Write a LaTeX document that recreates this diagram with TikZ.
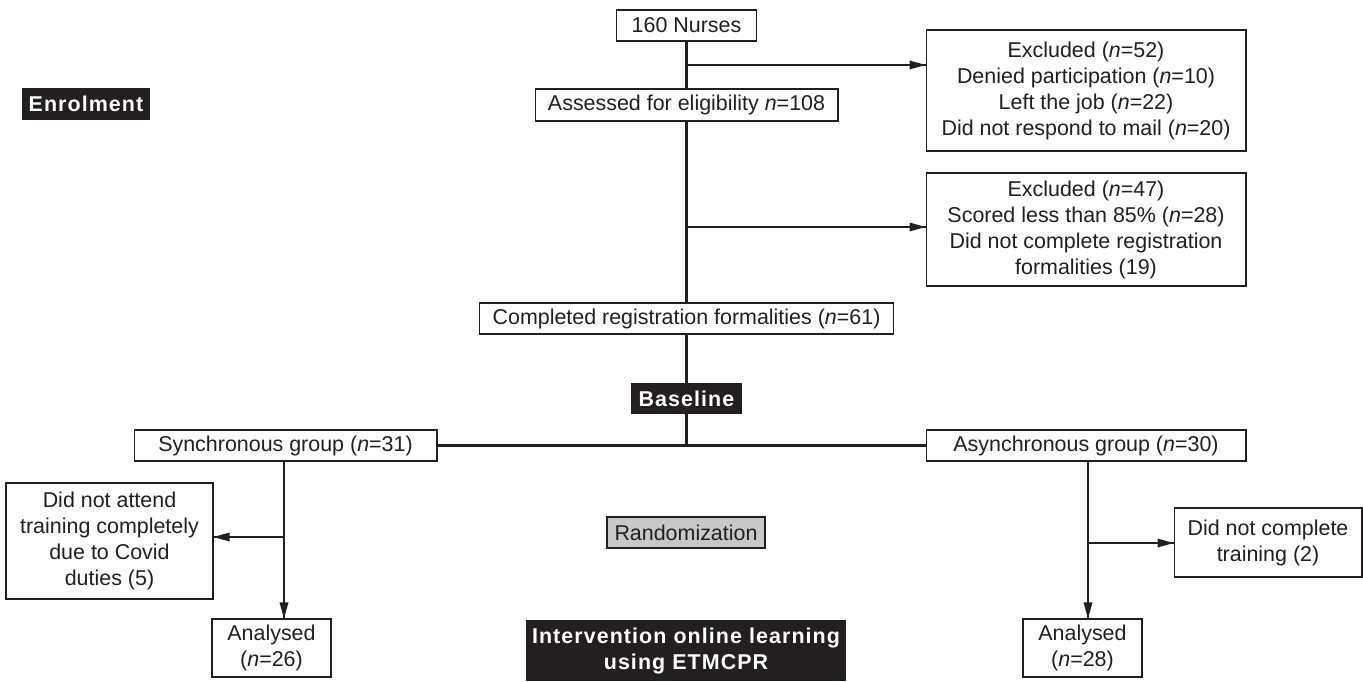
\documentclass[tikz,border=0pt]{standalone}
\usepackage{fontspec}
\setmainfont{Liberation Sans}
\definecolor{ink}{HTML}{231F20}
\definecolor{randgray}{HTML}{C8C8C9}
\newcommand{\nn}{\textit{n}}
\tikzset{
 box/.style={draw=ink, line width=0.6pt, inner sep=0pt, align=center, fill=white},
 darklabel/.style={fill=ink, text=white, inner sep=0pt, align=center,
   font=\fontsize{12.2}{14.8}\selectfont\bfseries\addfontfeatures{LetterSpace=5}},
 conn/.style={draw=ink, line width=1.4pt},
 tipfill/.style={fill=ink, draw=none}
}
\begin{document}
\begin{tikzpicture}[x=0.02cm,y=-0.02cm,
 every node/.style={font=\fontsize{12.2}{14.8}\selectfont, text=ink}]
\useasboundingbox (0,0) rectangle (1363,681);

\node[box, minimum width=2.8cm, minimum height=0.62cm] (nurses) at (686.5,25.5) {160 Nurses};
\node[box, minimum width=6.06cm, minimum height=0.64cm] (assess) at (686.5,105) {Assessed for eligibility \nn=108};
\node[box, minimum width=6.4cm, minimum height=2.42cm] (ex1) at (1086,90.5)
  {Excluded (\nn=52)\\Denied participation (\nn=10)\\Left the job (\nn=22)\\Did not respond to mail (\nn=20)};
\node[box, minimum width=6.4cm, minimum height=2.26cm] (ex2) at (1086,229.5)
  {Excluded (\nn=47)\\Scored less than 85\% (\nn=28)\\Did not complete registration\\formalities (19)};
\node[box, minimum width=8.3cm, minimum height=0.62cm] (completed) at (686.5,318.5) {Completed registration formalities (\nn=61)};
\node[darklabel, minimum width=2.24cm, minimum height=0.62cm] (baseline) at (686.5,398.5) {Baseline};
\node[darklabel, minimum width=2.56cm, minimum height=0.64cm] (enrol) at (86,104) {Enrolment};
\node[box, minimum width=6.06cm, minimum height=0.62cm] (sync) at (285.5,445.5) {Synchronous group (\nn=31)};
\node[box, minimum width=6.4cm, minimum height=0.62cm] (async) at (1086,445.5) {Asynchronous group (\nn=30)};
\node[box, minimum width=4.14cm, minimum height=2.32cm] (dna) at (109.5,541)
  {Did not attend\\training completely\\due to Covid\\duties (5)};
\node[box, minimum width=2.38cm, minimum height=1.16cm] (an26) at (271.5,648) {Analysed\\(\nn=26)};
\node[box, minimum width=3.76cm, minimum height=1.38cm] (dnc) at (1268,542.5) {Did not complete\\training (2)};
\node[box, minimum width=2.38cm, minimum height=1.16cm] (an28) at (1082.5,648) {Analysed\\(\nn=28)};
\node[box, fill=randgray, minimum width=3.16cm, minimum height=0.62cm] (rand) at (686,532.5) {Randomization};
\node[darklabel, minimum width=6.4cm, minimum height=1.22cm] (interv) at (686,650.5)
  {\makebox[6.16cm][s]{Intervention online learning}\\using ETMCPR};

\coordinate (b1) at (686.5,65);
\coordinate (b2) at (686.5,227);
\coordinate (b3) at (686.5,446);
\coordinate (sx) at (284,537);
\coordinate (ax) at (1088,543);

% plain connectors
\draw[conn] (nurses) -- (assess);
\draw[conn] (assess) -- (completed);
\draw[conn] (completed) -- (baseline);
\draw[conn] (baseline.south) -- (b3);
\draw[conn] (sync.east) -- (async.west);

% arrowed connectors: line + filled tip
\draw[conn] (b1) -- (b1 -| ex1.west);
\fill[tipfill] (b1 -| ex1.west) -- ++(-16,-4.5) -- ++(0,9) -- cycle;
\draw[conn] (b2) -- (b2 -| ex2.west);
\fill[tipfill] (b2 -| ex2.west) -- ++(-16,-4.5) -- ++(0,9) -- cycle;
\draw[conn] (sx |- sync.south) -- (sx |- an26.north);
\fill[tipfill] (sx |- an26.north) -- ++(-4.5,-16) -- ++(9,0) -- cycle;
\draw[conn] (sx) -- (sx -| dna.east);
\fill[tipfill] (sx -| dna.east) -- ++(16,-4.5) -- ++(0,9) -- cycle;
\draw[conn] (ax |- async.south) -- (ax |- an28.north);
\fill[tipfill] (ax |- an28.north) -- ++(-4.5,-16) -- ++(9,0) -- cycle;
\draw[conn] (ax) -- (ax -| dnc.west);
\fill[tipfill] (ax -| dnc.west) -- ++(-16,-4.5) -- ++(0,9) -- cycle;
\end{tikzpicture}
\end{document}
